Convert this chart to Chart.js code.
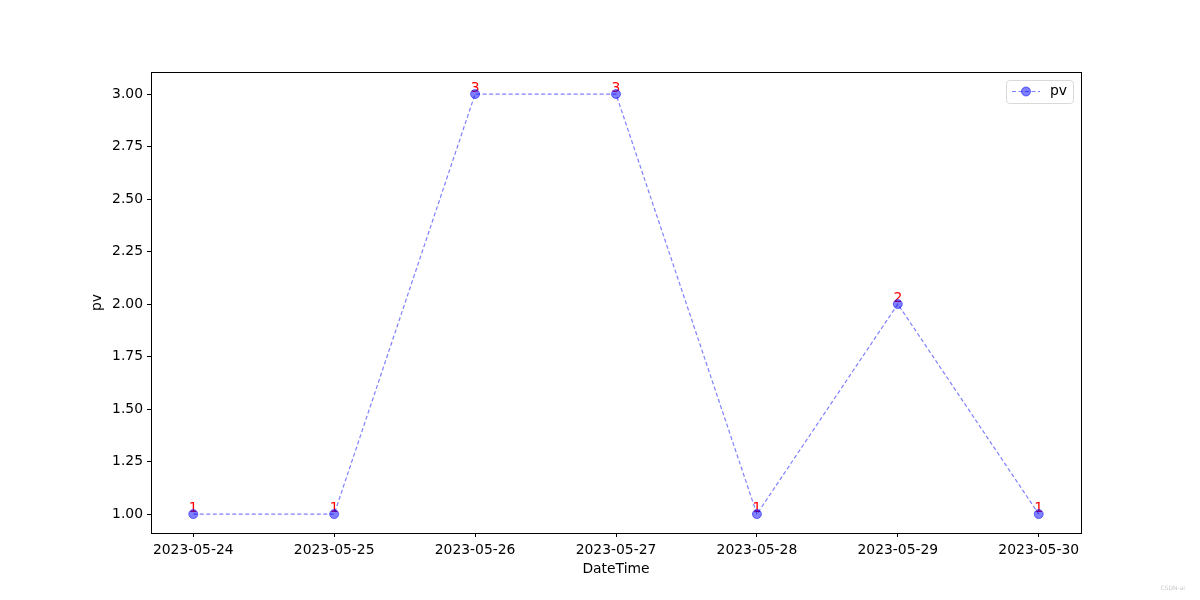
<!DOCTYPE html>
<html lang="en">
<head>
    <meta charset="UTF-8">
    <title>pv by DateTime</title>
    <script src="https://cdn.jsdelivr.net/npm/chart.js@4.4.0/dist/chart.umd.min.js"></script>
    <style>
        body { margin: 0; background: white; }
        #wrap { width: 1200px; height: 600px; position: relative; }
    </style>
</head>
<body>
<div id="wrap"><canvas id="pvChart"></canvas></div>

<script>
    const dates = ["2023-05-24", "2023-05-25", "2023-05-26", "2023-05-27", "2023-05-28", "2023-05-29", "2023-05-30"];
    const pv = [1, 1, 3, 3, 1, 2, 1];
    const yTicks = [1.00, 1.25, 1.50, 1.75, 2.00, 2.25, 2.50, 2.75, 3.00];

    const font = "DejaVu Sans";
    const fs = 13.9;

    // value labels go under the markers
    const valueLabels = {
        id: 'valueLabels',
        beforeDatasetsDraw(chart) {
            const ctx = chart.ctx;
            const xs = chart.scales.x, ys = chart.scales.y;
            ctx.save();
            ctx.fillStyle = 'red';
            ctx.font = fs + 'px "' + font + '"';
            ctx.textAlign = 'center';
            ctx.textBaseline = 'alphabetic';
            pv.forEach((v, i) => {
                ctx.fillText(String(v), xs.getPixelForValue(i), ys.getPixelForValue(v) - 2.5);
            });
            ctx.restore();
        }
    };

    // frame, axis titles, legend, watermark
    const extras = {
        id: 'extras',
        afterDatasetsDraw(chart) {
            const ctx = chart.ctx;
            const a = chart.chartArea;
            ctx.save();
            ctx.strokeStyle = 'black';
            ctx.lineWidth = 1;
            ctx.strokeRect(Math.round(a.left) + 0.5, Math.round(a.top) + 0.5,
                Math.round(a.right - a.left), Math.round(a.bottom - a.top));

            // axis titles
            ctx.fillStyle = 'black';
            ctx.font = fs + 'px "' + font + '"';
            ctx.textAlign = 'center';
            ctx.textBaseline = 'middle';
            ctx.fillText('DateTime', (a.left + a.right) / 2, 569);
            ctx.save();
            ctx.translate(97, (a.top + a.bottom) / 2);
            ctx.rotate(-Math.PI / 2);
            ctx.fillText('pv', 0, 0);
            ctx.restore();

            // legend
            const lx = 1006, ly = 80, lw = 67, lh = 23;
            ctx.fillStyle = 'rgba(255,255,255,0.8)';
            ctx.strokeStyle = '#d9d9d9';
            ctx.beginPath();
            ctx.roundRect(lx + 0.5, ly + 0.5, lw, lh, 3);
            ctx.fill();
            ctx.stroke();
            const my = ly + 11.5;
            ctx.strokeStyle = 'rgba(0,0,255,0.5)';
            ctx.lineWidth = 1.2;
            ctx.setLineDash([4, 2.5]);
            ctx.beginPath();
            ctx.moveTo(lx + 6, my);
            ctx.lineTo(lx + 34, my);
            ctx.stroke();
            ctx.setLineDash([]);
            ctx.lineWidth = 1;
            ctx.fillStyle = 'rgba(0,0,255,0.5)';
            ctx.beginPath();
            ctx.arc(lx + 20, my, 4.5, 0, Math.PI * 2);
            ctx.fill();
            ctx.stroke();
            ctx.fillStyle = 'black';
            ctx.textAlign = 'left';
            ctx.fillText(chart.data.datasets[0].label, lx + 44, my);

            ctx.fillStyle = '#c8c8c8';
            ctx.font = '6px "' + font + '"';
            ctx.textAlign = 'right';
            ctx.fillText('CSDN-ai', 1185, 588);
            ctx.restore();
        }
    };

    new Chart(document.getElementById('pvChart'), {
        type: 'line',
        data: {
            datasets: [{
                label: 'pv',
                data: pv.map((v, i) => ({x: i, y: v})),
                borderColor: 'rgba(0,0,255,0.5)',
                backgroundColor: 'rgba(0,0,255,0.5)',
                borderWidth: 1.2,
                borderDash: [4, 2.5],
                pointRadius: 4.5,
                pointBorderWidth: 1,
                pointBorderColor: 'rgba(0,0,255,0.5)',
                pointHoverRadius: 4.5,
                tension: 0
            }]
        },
        options: {
            responsive: true,
            maintainAspectRatio: false,
            animation: false,
            layout: { padding: { top: 72, right: 119, left: 0, bottom: 0 } },
            plugins: { legend: { display: false }, tooltip: { enabled: false } },
            scales: {
                x: {
                    type: 'linear',
                    min: -0.3,
                    max: 6.3,
                    afterBuildTicks: s => { s.ticks = dates.map((d, i) => ({value: i})); },
                    afterFit: s => { s.height = 67; },
                    ticks: {
                        callback: v => dates[v],
                        color: 'black',
                        font: { family: font, size: fs },
                        padding: 5,
                        maxRotation: 0,
                        autoSkip: false
                    },
                    grid: { drawOnChartArea: false, drawTicks: true, tickLength: 4, color: 'black' },
                    border: { display: false }
                },
                y: {
                    min: 0.91,
                    max: 3.105,
                    afterBuildTicks: s => { s.ticks = yTicks.map(v => ({value: v})); },
                    afterFit: s => { s.width = 151; },
                    ticks: {
                        callback: v => v.toFixed(2),
                        color: 'black',
                        font: { family: font, size: fs },
                        padding: 4
                    },
                    grid: { drawOnChartArea: false, drawTicks: true, tickLength: 4, color: 'black' },
                    border: { display: false }
                }
            }
        },
        plugins: [valueLabels, extras]
    });
</script>
</body>
</html>
